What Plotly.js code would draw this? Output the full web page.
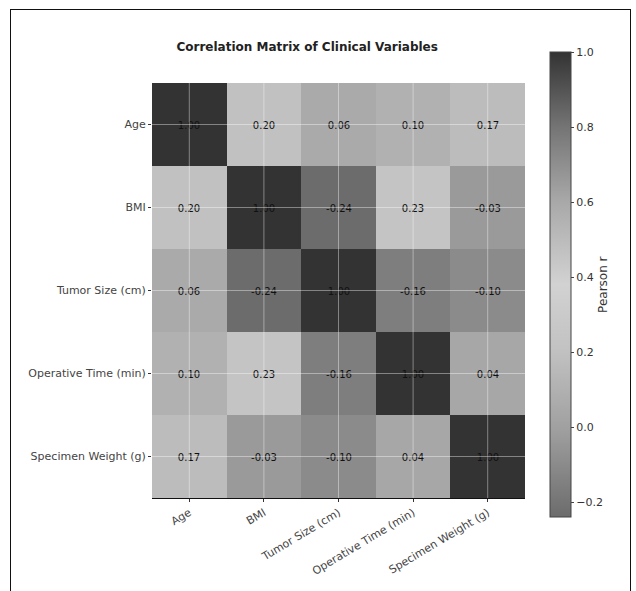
<!DOCTYPE html>
<html>
<head>
<meta charset="utf-8">
<script src="https://cdn.plot.ly/plotly-3.0.1.min.js"></script>
<style>
  html, body { margin: 0; padding: 0; background: #fff; }
  #frame { position: absolute; left: 10px; top: 9px; width: 621px; height: 600px; border: 1px solid #111; box-sizing: border-box; pointer-events: none; z-index: 5; }
  #chart { position: absolute; left: 0; top: 0; width: 636px; height: 591px; }
</style>
</head>
<body>
<div id="chart"></div>
<div id="frame"></div>
<script>
// ---- data ----
var variables = ["Age", "BMI", "Tumor Size (cm)", "Operative Time (min)", "Specimen Weight (g)"];
var rowAge       = [1.00, 0.20, 0.06, 0.10, 0.17];
var rowBMI       = [0.20, 1.00, -0.24, 0.23, -0.03];
var rowTumor     = [0.06, -0.24, 1.00, -0.16, -0.10];
var rowOperative = [0.10, 0.23, -0.16, 1.00, 0.04];
var rowSpecimen  = [0.17, -0.03, -0.10, 0.04, 1.00];
var colorbarTicks = [-0.2, 0.0, 0.2, 0.4, 0.6, 0.8, 1.0];

var z = [rowAge, rowBMI, rowTumor, rowOperative, rowSpecimen];

var grayScale = [
  [0.00, "#6c6c6c"],
  [0.19, "#a0a0a0"],
  [0.36, "#c2c2c2"],
  [0.50, "#d2d2d2"],
  [0.68, "#a8a8a8"],
  [0.84, "#747474"],
  [1.00, "#333333"]
];

var trace = {
  type: "heatmap",
  x: variables,
  y: variables,
  z: z,
  zmin: -0.24,
  zmax: 1.0,
  colorscale: grayScale,
  texttemplate: "%{z:.2f}",
  textfont: { family: "DejaVu Sans", size: 10, color: "#111" },
  xgap: 0, ygap: 0,
  hoverinfo: "skip",
  colorbar: {
    x: 1.067, xanchor: "left",
    y: 0.514, yanchor: "middle",
    len: 465, lenmode: "pixels",
    xpad: 0, ypad: 0,
    thickness: 21,
    outlinecolor: "#444", outlinewidth: 1,
    ticks: "outside", ticklen: 3, tickcolor: "#444",
    tickvals: colorbarTicks,
    ticktext: colorbarTicks.map(function (v) { return v < 0 ? "\u2212" + Math.abs(v).toFixed(1) : v.toFixed(1); }),
    tickfont: { family: "DejaVu Sans", size: 11, color: "#333" },
    title: { text: "Pearson r", side: "right", font: { family: "DejaVu Sans", size: 12, color: "#333" } }
  }
};

// faint grid lines through cell centres, drawn over the heatmap
var shapes = [];
variables.forEach(function (v) {
  shapes.push({ type: "line", xref: "x", yref: "paper", x0: v, x1: v, y0: 0, y1: 1,
    line: { color: "rgba(255,255,255,0.4)", width: 1 }, layer: "above" });
  shapes.push({ type: "line", xref: "paper", yref: "y", x0: 0, x1: 1, y0: v, y1: v,
    line: { color: "rgba(255,255,255,0.4)", width: 1 }, layer: "above" });
});

var layout = {
  width: 636, height: 591,
  margin: { l: 152, r: 111, t: 83, b: 93, autoexpand: false },
  paper_bgcolor: "#fff", plot_bgcolor: "#fff",
  font: { family: "DejaVu Sans", color: "#333" },
  title: {
    text: "<b>Correlation Matrix of Clinical Variables</b>",
    font: { family: "DejaVu Sans", size: 12, color: "#222" },
    x: 0.483, xanchor: "center", xref: "container",
    y: 0.92, yanchor: "middle", yref: "container"
  },
  xaxis: {
    tickangle: -31,
    tickfont: { family: "DejaVu Sans", size: 11, color: "#444" },
    ticks: "outside", ticklen: 3, tickcolor: "#333",
    showline: true, linecolor: "#111", linewidth: 1.2,
    showgrid: false, zeroline: false
  },
  yaxis: {
    autorange: "reversed",
    tickfont: { family: "DejaVu Sans", size: 11, color: "#444" },
    ticks: "outside", ticklen: 3, tickcolor: "#333",
    showline: false, showgrid: false, zeroline: false
  },
  shapes: shapes
};

Plotly.newPlot("chart", [trace], layout, { displayModeBar: false, staticPlot: true });
</script>
</body>
</html>
